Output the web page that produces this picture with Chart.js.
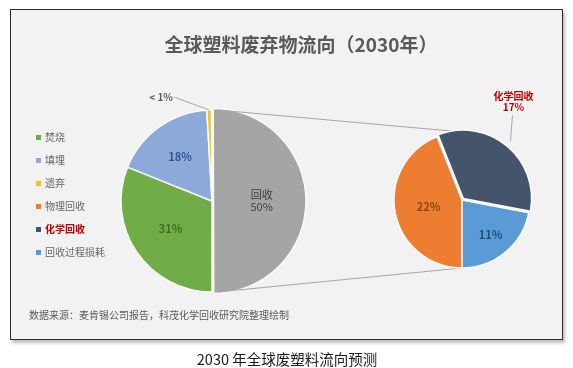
<!DOCTYPE html>
<html lang="zh">
<head>
    <meta charset="UTF-8">
    <meta name="viewport" content="width=device-width, initial-scale=1.0">
    <title>全球塑料废弃物流向（2030年）</title>
    <script src="https://cdn.jsdelivr.net/npm/chart.js"></script>
    <style>
        html, body {
            margin: 0;
            padding: 0;
            background: #ffffff;
        }
        body {
            position: relative;
            width: 573px;
            height: 368px;
            overflow: hidden;
            font-family: "Noto Sans CJK SC", "Noto Sans", sans-serif;
        }
        .frame {
            position: absolute;
            left: 10px;
            top: 9px;
            width: 551px;
            height: 329px;
            border: 1px solid #2b2b2b;
            background: #f2f2f2;
            box-shadow: 2px 3px 3px rgba(0, 0, 0, 0.25);
        }
        canvas {
            position: absolute;
            left: 0;
            top: 0;
        }
        .txt {
            position: absolute;
            white-space: nowrap;
            line-height: 1;
            transform: translate(-50%, -50%);
        }
        .title {
            left: 301px;
            top: 43px;
            font-size: 19px;
            font-weight: bold;
            color: #595959;
        }
        .note {
            left: 29px;
            top: 315px;
            font-size: 10px;
            color: #595959;
            transform: translate(0, -50%);
        }
        .caption {
            left: 287px;
            top: 359px;
            font-size: 14.5px;
            color: #1a1a1a;
        }
        #legend {
            position: absolute;
            left: 36px;
            top: 125px;
        }
        #legend div {
            height: 23px;
            line-height: 23px;
            font-size: 10px;
            color: #666666;
            white-space: nowrap;
        }
        #legend span.box {
            display: inline-block;
            width: 5px;
            height: 5px;
            margin-right: 4px;
            vertical-align: middle;
            position: relative;
            top: -1px;
        }
    </style>
</head>
<body>
<div class="frame"></div>
<canvas id="leftPie" width="573" height="368"></canvas>
<canvas id="rightPie" width="573" height="368"></canvas>
<div class="txt title">全球塑料废弃物流向（2030年）</div>
<div id="legend"></div>
<div class="txt note">数据来源：麦肯锡公司报告，科茂化学回收研究院整理绘制</div>
<div class="txt caption">2030 年全球废塑料流向预测</div>
<script>
    // main pie: share of all plastic waste (%)
    const leftCategories = ['焚烧', '填埋', '遗弃', '回收'];
    const leftValues = [31, 18, 0.8, 50];
    const leftColors = ['#70ad47', '#8eaadb', '#f2c12e', '#a5a5a5'];

    // breakdown of the recycled part (%)
    const rightCategories = ['物理回收', '化学回收', '回收过程损耗'];
    const rightValues = [22, 17, 11];
    const rightColors = ['#ed7d31', '#44546a', '#5b9bd5'];

    const legendOrder = ['焚烧', '填埋', '遗弃', '物理回收', '化学回收', '回收过程损耗'];
    const highlight = '化学回收';

    const FONT = '"Noto Sans CJK SC", "Noto Sans", sans-serif';

    function pctText(v) {
        return v < 1 ? '< 1%' : Math.round(v) + '%';
    }

    // legend (html)
    const legendEl = document.getElementById('legend');
    legendOrder.forEach(name => {
        let i = leftCategories.indexOf(name);
        const color = i >= 0 ? leftColors[i] : rightColors[rightCategories.indexOf(name)];
        const row = document.createElement('div');
        const hot = name === highlight;
        row.innerHTML = '<span class="box" style="background:' + color + '"></span>' +
            '<span style="' + (hot ? 'color:#c00000;font-weight:bold' : '') + '">' + name + '</span>';
        legendEl.appendChild(row);
    });

    // draws the % labels on / next to each slice
    const sliceLabels = {
        id: 'sliceLabels',
        afterDatasetsDraw(chart, args, opts) {
            const ctx = chart.ctx;
            const meta = chart.getDatasetMeta(0);
            const values = chart.data.datasets[0].data;
            meta.data.forEach((arc, i) => {
                const st = opts.styles[i];
                const p = arc.getProps(['x', 'y', 'startAngle', 'endAngle', 'outerRadius'], true);
                const off = arc.options.offset || 0;
                const mid = (p.startAngle + p.endAngle) / 2;
                const c = Math.cos(mid), s = Math.sin(mid);
                const lines = (st.name ? [chart.data.labels[i]] : []).concat(pctText(values[i]));
                let lx, ly;
                ctx.save();
                if (st.callout) {
                    const ex = p.x + c * (p.outerRadius + off);
                    const ey = p.y + s * (p.outerRadius + off);
                    lx = ex + st.callout[0];
                    ly = ey + st.callout[1];
                    ctx.strokeStyle = '#a6a6a6';
                    ctx.lineWidth = 1;
                    ctx.beginPath();
                    ctx.moveTo(ex, ey);
                    ctx.lineTo(ex + st.line[0], ey + st.line[1]);
                    ctx.stroke();
                } else {
                    const d = p.outerRadius * st.fr + off;
                    lx = p.x + c * d;
                    ly = p.y + s * d;
                }
                ctx.font = (st.bold ? 'bold ' : '') + st.size + 'px ' + FONT;
                ctx.fillStyle = st.color;
                ctx.textAlign = 'center';
                ctx.textBaseline = 'middle';
                const lh = st.size + 1;
                lines.forEach((t, k) => ctx.fillText(t, lx, ly + (k - (lines.length - 1) / 2) * lh));
                ctx.restore();
            });
        }
    };

    const leftChart = new Chart(document.getElementById('leftPie'), {
        type: 'pie',
        data: {
            labels: leftCategories,
            datasets: [{
                data: leftValues,
                backgroundColor: leftColors,
                borderColor: '#fbfbfb',
                borderWidth: 1.5,
                offset: [0, 0, 0, 6]
            }]
        },
        options: {
            responsive: false,
            animation: false,
            rotation: 180,
            radius: 91,
            layout: { padding: { left: 112, right: 261, top: 101, bottom: 67 } },
            plugins: {
                legend: { display: false },
                tooltip: { enabled: false },
                sliceLabels: {
                    styles: [
                        { fr: 0.55, color: '#3d6b24', bold: true, size: 11 },
                        { fr: 0.6, color: '#2f5597', bold: true, size: 11 },
                        { callout: [-48, -13], line: [-35, -13], color: '#595959', bold: true, size: 10 },
                        { fr: 0.48, color: '#404040', bold: false, size: 11, name: true }
                    ]
                }
            }
        },
        plugins: [sliceLabels]
    });

    // grey lines linking the recycled slice to the breakdown pie
    const connectors = {
        id: 'connectors',
        beforeDatasetsDraw(chart) {
            const g = leftChart.getDatasetMeta(0).data[leftCategories.indexOf('回收')];
            const gp = g.getProps(['x', 'y', 'startAngle', 'endAngle', 'outerRadius'], true);
            const gm = (gp.startAngle + gp.endAngle) / 2;
            const dx = Math.cos(gm) * g.options.offset, dy = Math.sin(gm) * g.options.offset;
            const top = [gp.x + dx + Math.cos(gp.startAngle) * gp.outerRadius, gp.y + dy + Math.sin(gp.startAngle) * gp.outerRadius];
            const bot = [gp.x + dx + Math.cos(gp.endAngle) * gp.outerRadius, gp.y + dy + Math.sin(gp.endAngle) * gp.outerRadius];
            const r = chart.getDatasetMeta(0).data[0];
            const ctx = chart.ctx;
            ctx.save();
            ctx.strokeStyle = '#a6a6a6';
            ctx.lineWidth = 1;
            ctx.beginPath();
            ctx.moveTo(top[0], top[1]);
            ctx.lineTo(r.x, r.y - r.outerRadius);
            ctx.moveTo(bot[0], bot[1]);
            ctx.lineTo(r.x, r.y + r.outerRadius);
            ctx.stroke();
            ctx.restore();
        }
    };

    new Chart(document.getElementById('rightPie'), {
        type: 'pie',
        data: {
            labels: rightCategories,
            datasets: [{
                data: rightValues,
                backgroundColor: rightColors,
                borderColor: '#fbfbfb',
                borderWidth: 1.5,
                offset: [0, 8, 0]
            }]
        },
        options: {
            responsive: false,
            animation: false,
            rotation: 180,
            radius: 68,
            layout: { padding: { left: 372, right: 21, top: 110, bottom: 78 } },
            plugins: {
                legend: { display: false },
                tooltip: { enabled: false },
                sliceLabels: {
                    styles: [
                        { fr: 0.5, color: '#8a4513', bold: true, size: 11 },
                        { callout: [3, -40], line: [2, -26], color: '#c00000', bold: true, size: 10, name: true },
                        { fr: 0.66, color: '#1f4e79', bold: true, size: 11 }
                    ]
                }
            }
        },
        plugins: [connectors, sliceLabels]
    });
</script>
</body>
</html>
